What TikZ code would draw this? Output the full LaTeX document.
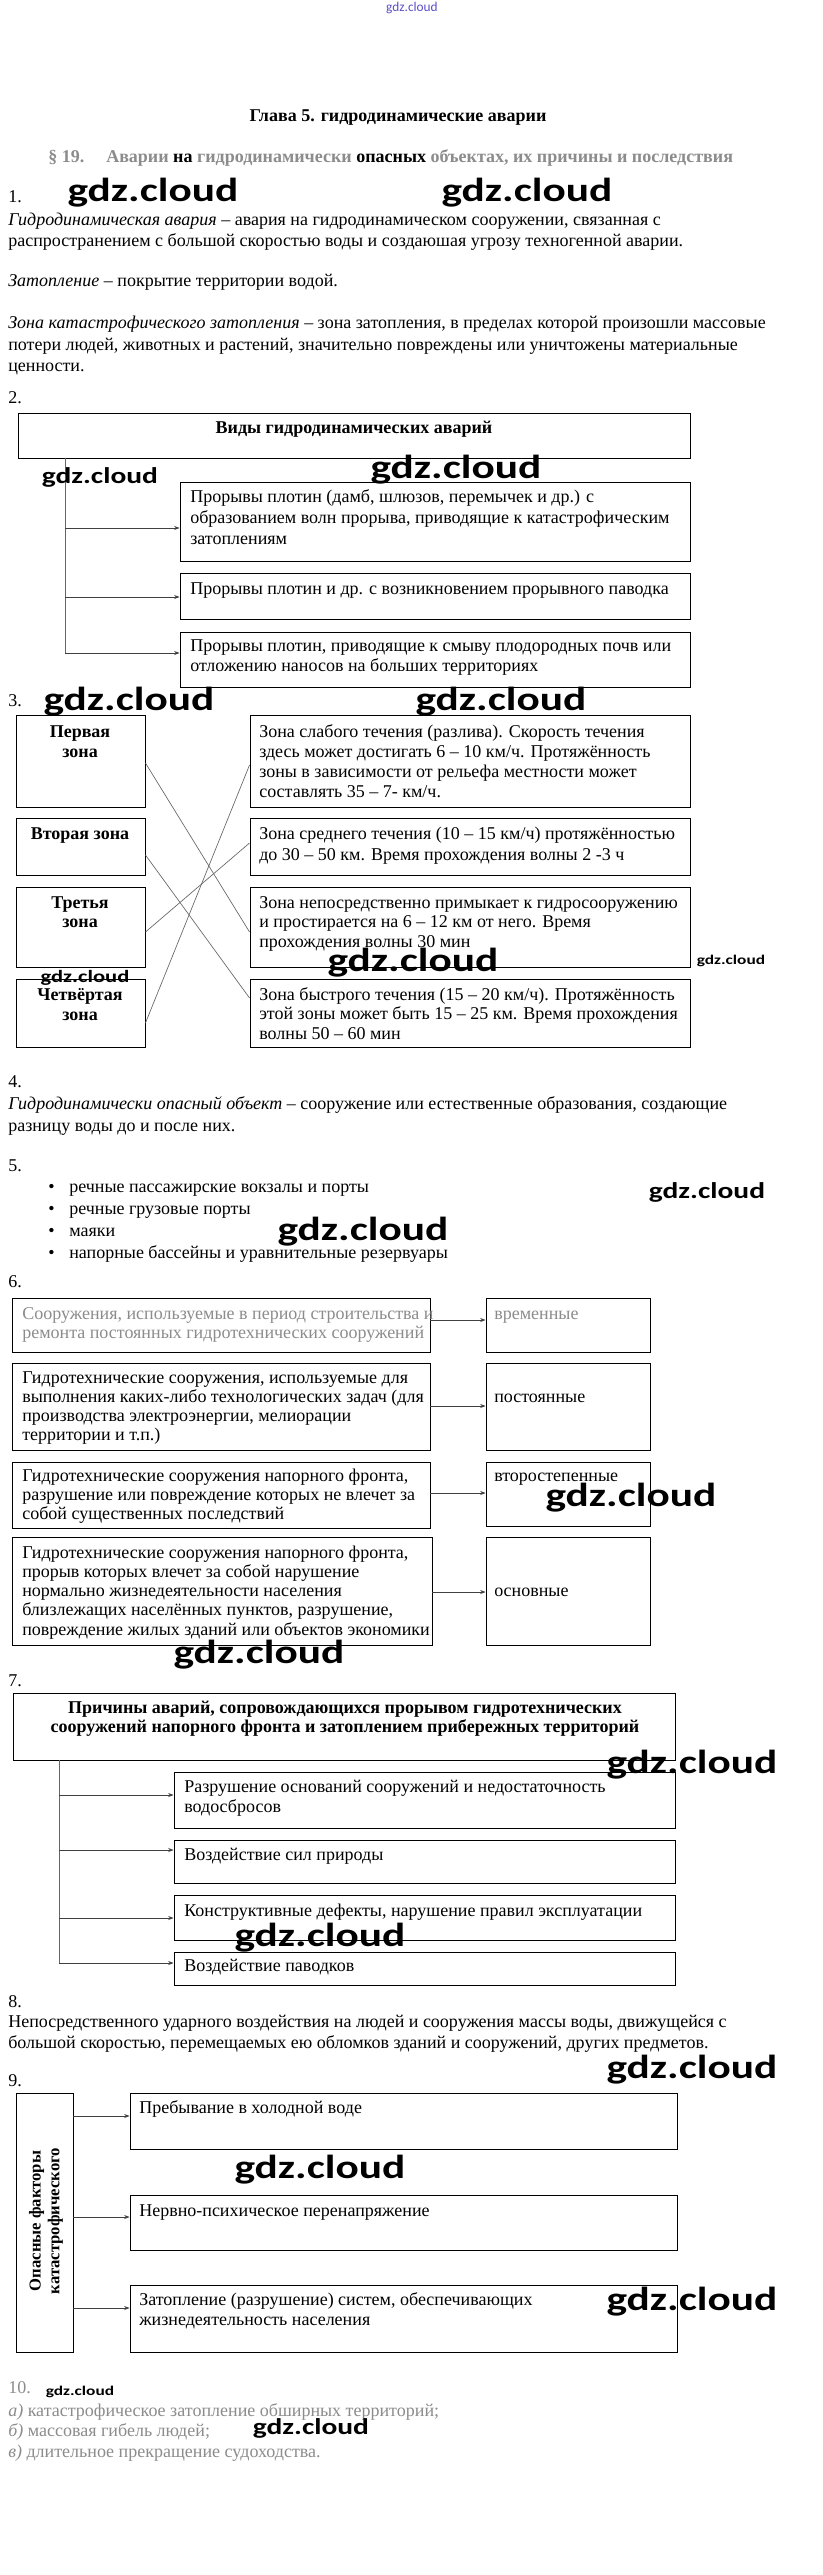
\documentclass[tikz,border=0pt]{standalone}
\usepackage{fontspec}
\setmainfont{Liberation Serif}
\newfontfamily\wmf{Carlito}
\usetikzlibrary{arrows.meta,fit}
\newcommand\fs{\fontsize{13.5pt}{16pt}\selectfont}
\newcommand\lns[5]{\foreach \tx [count=\i] in {#5} {\node[txt] (#1\i) at (#2,{#3+(\i-1)*(#4)}) {\tx};}}
\newcommand\bx[5]{\node[box, fit={(#2,#3) (#4,#5)}] (#1) {};}
\newcommand\wmk[4]{\node[wm, font=\wmf\bfseries\fontsize{#4}{#4}\selectfont] (#1) at (#2,#3) {\scalebox{1.3}[1]{gdz.cloud}};}
\definecolor{fade}{gray}{0.55}
\definecolor{wmblue}{RGB}{90,80,200}
\tikzset{
  txt/.style={anchor=base west, inner sep=0pt, font=\fs},
  ctr/.style={anchor=base, inner sep=0pt, font=\fs\bfseries},
  box/.style={draw, line width=0.7pt, inner sep=0pt},
  wm/.style={inner sep=0pt, text=black},
  arr/.style={-{Stealth[length=4pt,width=3pt]}, line width=0.5pt, draw=black!75},
  cline/.style={line width=0.5pt, draw=black!60},
}
\begin{document}
\begin{tikzpicture}[x=0.75pt,y=-0.75pt]
\useasboundingbox[fill=white] (0,0) rectangle (823,2575);
% top watermark
\node[inner sep=0pt, text=wmblue, font=\wmf\fontsize{10pt}{10pt}\selectfont] (wm0) at (412,8) {gdz.cloud};
% heading
\node[ctr] (title) at (398,122) {Глава 5. гидродинамические аварии};
\node[txt, font=\fs\bfseries, text=fade] (par) at (48,163) {§ 19.};
\node[txt, font=\fs\bfseries] (head) at (106,163) {\textcolor{fade}{Аварии} на \textcolor{fade}{гидродинамически} опасных \textcolor{fade}{объектах, их причины и последствия}};
% 1
\node[txt] (n1) at (8,203) {1.};
\node[txt] (d1a) at (8,226) {\textit{Гидродинамическая авария} – авария на гидродинамическом сооружении, связанная с};
\node[txt] (d1b) at (8,247) {распространением с большой скоростью воды и создаюшая угрозу техногенной аварии.};
\node[txt] (d1c) at (8,287) {\textit{Затопление} – покрытие территории водой.};
\lns{d1d}{8}{329}{21.5}{{\textit{Зона катастрофического затопления} – зона затопления, в пределах которой произошли массовые},{потери людей, животных и растений, значительно повреждены или уничтожены материальные},{ценности.}}
% 2
\node[txt] (n2) at (8,404) {2.};
\bx{V}{18}{413}{690}{458}
\node[ctr] (Vt) at (354,433) {Виды гидродинамических аварий};
\bx{A}{180}{482}{690}{561}
\lns{At}{190}{502}{21}{{Прорывы плотин (дамб, шлюзов, перемычек и др.) с},{образованием волн прорыва, приводящие к катастрофическим},{затоплениям}}
\bx{B}{180}{573}{690}{619}
\node[txt] (Bt) at (190,594) {Прорывы плотин и др. с возникновением прорывного паводка};
\bx{C}{180}{632}{690}{687}
\lns{Ct}{190}{651}{20}{{Прорывы плотин, приводящие к смыву плодородных почв или},{отложению наносов на больших территориях}}
\coordinate (v2top) at (65,458);
\coordinate (v2a) at (65,528);
\coordinate (v2b) at (65,597);
\coordinate (v2c) at (65,653);
\draw[cline] (v2top) -- (v2c);
\draw[arr] (v2a) -- (v2a -| A.west);
\draw[arr] (v2b) -- (v2b -| B.west);
\draw[arr] (v2c) -- (v2c -| C.west);
% 3
\node[txt] (n3) at (8,706) {3.};
\bx{P1}{16}{715}{145}{807}
\bx{P2}{16}{818}{145}{875}
\bx{P3}{16}{887}{145}{967}
\bx{P4}{16}{979}{145}{1047}
\node[ctr] (P1a) at (80,737) {Первая};
\node[ctr] (P1b) at (80,757) {зона};
\node[ctr] (P2a) at (80,839) {Вторая зона};
\node[ctr] (P3a) at (80,908) {Третья};
\node[ctr] (P3b) at (80,927) {зона};
\node[ctr] (P4a) at (80,1000) {Четвёртая};
\node[ctr] (P4b) at (80,1020) {зона};
\bx{R1}{250}{715}{690}{807}
\lns{R1t}{259}{737}{20}{{Зона слабого течения (разлива). Скорость течения},{здесь может достигать 6 – 10 км/ч. Протяжённость},{зоны в зависимости от рельефа местности может},{составлять 35 – 7- км/ч.}}
\bx{R2}{250}{818}{690}{875}
\lns{R2t}{259}{839}{21}{{Зона среднего течения (10 – 15 км/ч) протяжённостью},{до 30 – 50 км. Время прохождения волны 2 -3 ч}}
\bx{R3}{250}{887}{690}{967}
\lns{R3t}{259}{908}{19.5}{{Зона непосредственно примыкает к гидросооружению},{и простирается на 6 – 12 км от него. Время},{прохождения волны 30 мин}}
\bx{R4}{250}{979}{690}{1047}
\lns{R4t}{259}{1000}{19.5}{{Зона быстрого течения (15 – 20 км/ч). Протяжённость},{этой зоны может быть 15 – 25 км. Время прохождения},{волны 50 – 60 мин}}
\draw[cline] (P1.east |- 0,763) -- (R3.west |- 0,932);
\draw[cline] (P2.east |- 0,855) -- (R4.west |- 0,998);
\draw[cline] (P3.east |- 0,932) -- (R2.west |- 0,843);
\draw[cline] (P4.east |- 0,1023) -- (R1.west |- 0,765);
% 4, 5
\node[txt] (n4) at (8,1087) {4.};
\lns{d4}{8}{1109}{22}{{\textit{Гидродинамически опасный объект} – сооружение или естественные образования, создающие},{разницу воды до и после них.}}
\node[txt] (n5) at (8,1171) {5.};
\foreach \tx [count=\i] in {{речные пассажирские вокзалы и порты},{речные грузовые порты},{маяки},{напорные бассейны и уравнительные резервуары}} {
  \node[txt] (b\i) at (48,{1192+(\i-1)*22}) {•};
  \node[txt] (bt\i) at (69,{1192+(\i-1)*22}) {\tx};
}
% 6
\node[txt] (n6) at (8,1287) {6.};
\bx{L1}{12}{1298}{430}{1352}
\begin{scope}[every node/.append style={text=fade}]
\lns{L1t}{22}{1319}{19}{{Сооружения, используемые в период строительства и},{ремонта постоянных гидротехнических сооружений}}
\node[txt] (K1t) at (494,1319) {временные};
\end{scope}
\bx{K1}{486}{1298}{650}{1352}
\bx{L2}{12}{1363}{430}{1450}
\lns{L2t}{22}{1383}{19.3}{{Гидротехнические сооружения, используемые для},{выполнения каких-либо технологических задач (для},{производства электроэнергии, мелиорации},{территории и т.п.)}}
\bx{K2}{486}{1363}{650}{1450}
\node[txt] (K2t) at (494,1402) {постоянные};
\bx{L3}{12}{1462}{430}{1528}
\lns{L3t}{22}{1481}{19}{{Гидротехнические сооружения напорного фронта,},{разрушение или повреждение которых не влечет за},{собой существенных последствий}}
\bx{K3}{486}{1462}{650}{1526}
\node[txt] (K3t) at (494,1481) {второстепенные};
\bx{L4}{12}{1537}{432}{1645}
\lns{L4t}{22}{1558}{19.3}{{Гидротехнические сооружения напорного фронта,},{прорыв которых влечет за собой нарушение},{нормально жизнедеятельности населения},{близлежащих населённых пунктов, разрушение,},{повреждение жилых зданий или объектов экономики}}
\bx{K4}{486}{1537}{650}{1645}
\node[txt] (K4t) at (494,1596) {основные};
\draw[arr] (L1.east |- 0,1320) -- (K1.west |- 0,1320);
\draw[arr] (L2.east |- 0,1406) -- (K2.west |- 0,1406);
\draw[arr] (L3.east |- 0,1493) -- (K3.west |- 0,1493);
\draw[arr] (L4.east |- 0,1592) -- (K4.west |- 0,1592);
% 7
\node[txt] (n7) at (8,1686) {7.};
\bx{H}{13}{1693}{675}{1760}
\node[ctr] (Ha) at (345,1713) {Причины аварий, сопровождающихся прорывом гидротехнических};
\node[ctr] (Hb) at (345,1732) {сооружений напорного фронта и затоплением прибережных территорий};
\bx{S1}{174}{1772}{675}{1828}
\lns{S1t}{184}{1792}{20}{{Разрушение оснований сооружений и недостаточность},{водосбросов}}
\bx{S2}{174}{1840}{675}{1883}
\node[txt] (S2t) at (184,1860) {Воздействие сил природы};
\bx{S3}{174}{1895}{675}{1940}
\node[txt] (S3t) at (184,1916) {Конструктивные дефекты, нарушение правил эксплуатации};
\bx{S4}{174}{1952}{675}{1985}
\node[txt] (S4t) at (184,1971) {Воздействие паводков};
\coordinate (v7top) at (59,1760);
\coordinate (v7a) at (59,1795);
\coordinate (v7b) at (59,1850);
\coordinate (v7c) at (59,1918);
\coordinate (v7d) at (59,1963);
\draw[cline] (v7top) -- (v7d);
\draw[arr] (v7a) -- (v7a -| S1.west);
\draw[arr] (v7b) -- (v7b -| S2.west);
\draw[arr] (v7c) -- (v7c -| S3.west);
\draw[arr] (v7d) -- (v7d -| S4.west);
% 8
\node[txt] (n8) at (8,2007) {8.};
\lns{d8}{8}{2027}{21}{{Непосредственного ударного воздействия на людей и сооружения массы воды, движущейся с},{большой скоростью, перемещаемых ею обломков зданий и сооружений, других предметов.}}
% 9
\node[txt] (n9) at (8,2086) {9.};
\bx{F0}{16}{2093}{73}{2352}
\node[rotate=90, inner sep=0pt, align=center, font=\fontsize{12.5pt}{14pt}\selectfont\bfseries] (F0t) at (46,2221) {Опасные факторы\\катастрофического};
\bx{F1}{130}{2093}{677}{2149}
\node[txt] (F1t) at (139,2113) {Пребывание в холодной воде};
\bx{F2}{130}{2195}{677}{2250}
\node[txt] (F2t) at (139,2216) {Нервно-психическое перенапряжение};
\bx{F3}{130}{2285}{677}{2352}
\lns{F3t}{139}{2305}{20}{{Затопление (разрушение) систем, обеспечивающих},{жизнедеятельность населения}}
\draw[arr] (F0.east |- 0,2116) -- (F1.west |- 0,2116);
\draw[arr] (F0.east |- 0,2217) -- (F2.west |- 0,2217);
\draw[arr] (F0.east |- 0,2308) -- (F3.west |- 0,2308);
% 10
\node[txt, text=fade] (n10) at (8,2393) {10.};
\begin{scope}[every node/.append style={text=fade}]
\lns{d10}{8}{2416}{20.5}{{\textit{а)} катастрофическое затопление обширных территорий;},{\textit{б)} массовая гибель людей;},{\textit{в)} длительное прекращение судоходства.}}
\end{scope}
% watermarks
\wmk{w1}{153}{193}{25pt}
\wmk{w2}{527}{193}{25pt}
\wmk{w3}{100}{477}{17pt}
\wmk{w4}{456}{470}{25pt}
\wmk{w5}{129}{702}{25pt}
\wmk{w6}{501}{702}{25pt}
\wmk{w7}{413}{963}{25pt}
\wmk{w8}{731}{961}{10pt}
\wmk{w9}{85}{978}{13pt}
\wmk{w10}{707}{1192}{17pt}
\wmk{w11}{363}{1232}{25pt}
\wmk{w12}{631}{1498}{25pt}
\wmk{w13}{259}{1655}{25pt}
\wmk{w14}{692}{1765}{25pt}
\wmk{w15}{320}{1938}{25pt}
\wmk{w16}{692}{2070}{25pt}
\wmk{w17}{320}{2170}{25pt}
\wmk{w18}{692}{2302}{25pt}
\wmk{w19}{80}{2392}{10pt}
\wmk{w20}{311}{2428}{17pt}
\end{tikzpicture}
\end{document}
